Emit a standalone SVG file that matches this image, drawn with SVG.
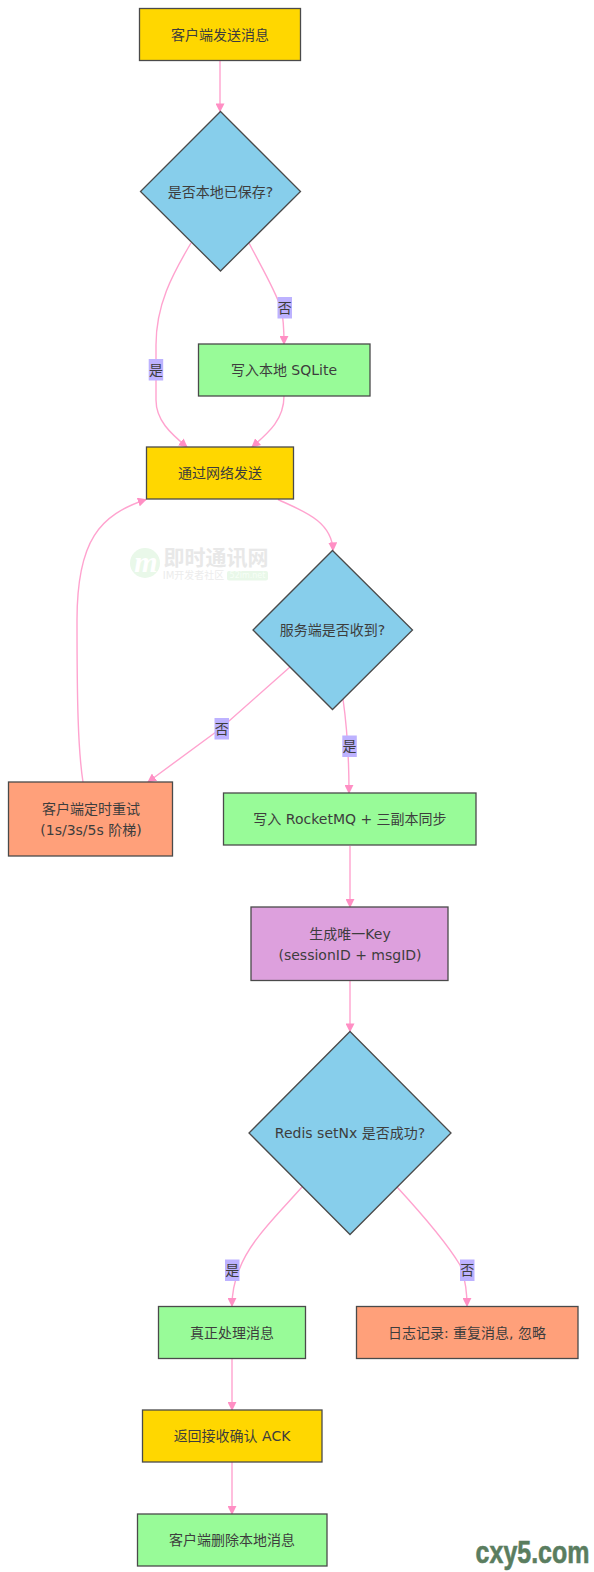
<svg xmlns="http://www.w3.org/2000/svg" width="594" height="1572" viewBox="0 0 594 1572">
<style>
text{font-family:"DejaVu Sans","Noto Sans CJK SC",sans-serif;font-size:14px;fill:#3d3d3d;text-anchor:middle;dominant-baseline:central}
.n{stroke:#4a4a4a;stroke-width:1.3}
.y{fill:#ffd700}.b{fill:#87ceeb}.g{fill:#98fb98}.o{fill:#ffa07a}.p{fill:#dda0dd}
.e{fill:none;stroke:#ffa3cf;stroke-width:1.4;marker-end:url(#a)}
.l{fill:#bdb2ff}
</style>
<defs><marker id="a" markerUnits="userSpaceOnUse" viewBox="0 0 10 10" refX="9" refY="5" markerWidth="9" markerHeight="9" orient="auto"><path d="M0 0L10 5L0 10z" fill="#ff8fc4"/></marker></defs>
<g id="watermark">
<circle cx="145" cy="563" r="15" fill="#e9f8e9"/>
<text x="146" y="561" style="font-family:'Liberation Serif',serif;font-size:30px;font-style:italic;font-weight:700;fill:#fff">m</text>
<text x="216" y="558" style="font-size:21px;font-weight:700;fill:#e8e8e8">即时通讯网</text>
<text x="193.500" y="575.500" style="font-size:10px;fill:#ececec">IM开发者社区</text>
<rect x="227" y="571" width="41" height="9.500" rx="2" fill="#e9f8e9"/>
<text x="247.500" y="575.500" style="font-size:8px;fill:#f7fff7">52im.net</text>
</g>
<g id="connectors">
<path class="e" d="M220 61V111.500"/>
<path class="e" d="M191 243C172 275 156 305 156 345V400C156 420 170 433 187 447"/>
<path class="e" d="M249 243C262 268 275 290 281 308C284 320 284 330 284 344"/>
<path class="e" d="M284 396C284 420 268 433 252 447"/>
<path class="e" d="M278 499.500C300 510 332 520 333 550.500"/>
<path class="e" d="M290 667L220 729L148 782"/>
<path class="e" d="M343 699C346 720 349 750 349 793"/>
<path class="e" d="M83 782C78 750 77 700 77 620C77 540 100 515 146 499.500"/>
<path class="e" d="M350 846V907"/>
<path class="e" d="M350 981V1031.500"/>
<path class="e" d="M302 1187C280 1212 250 1240 239 1270C233 1285 232 1295 232 1306"/>
<path class="e" d="M397 1187C420 1212 445 1240 460 1265C466 1280 467 1295 467 1306"/>
<path class="e" d="M232 1359V1410"/>
<path class="e" d="M232 1462V1514"/>
</g>
<g id="n1"><rect class="n y" x="139.500" y="8.500" width="161" height="52"/><text x="220" y="34.500">客户端发送消息</text></g>
<g id="n2"><polygon class="n b" points="220.500,111.500 300.500,191.500 220.500,271 140.500,191.500"/><text x="220.500" y="191.500">是否本地已保存?</text></g>
<g id="n3"><rect class="n g" x="198.500" y="344" width="171.500" height="52"/><text x="284" y="370">写入本地 SQLite</text></g>
<g id="n4"><rect class="n y" x="146.500" y="447" width="147" height="52"/><text x="220" y="473">通过网络发送</text></g>
<g id="n5"><polygon class="n b" points="332.500,550.500 412.500,630 332.500,709.500 253,630"/><text x="332.500" y="630">服务端是否收到?</text></g>
<g id="n6"><rect class="n o" x="8.500" y="782" width="164" height="74"/><text x="91" y="809">客户端定时重试</text><text x="91" y="830">(1s/3s/5s 阶梯)</text></g>
<g id="n7"><rect class="n g" x="223.500" y="793" width="252.500" height="52"/><text x="350" y="819">写入 RocketMQ + 三副本同步</text></g>
<g id="n8"><rect class="n p" x="251" y="907" width="197" height="73.500"/><text x="350" y="933.500">生成唯一Key</text><text x="350" y="954.500">(sessionID + msgID)</text></g>
<g id="n9"><polygon class="n b" points="350,1031.500 451,1133 350,1234.500 249,1133"/><text x="350" y="1133">Redis setNx 是否成功?</text></g>
<g id="n10"><rect class="n g" x="158.500" y="1306.500" width="147" height="52"/><text x="232" y="1332.500">真正处理消息</text></g>
<g id="n11"><rect class="n o" x="356.500" y="1306.500" width="221.500" height="52"/><text x="467" y="1332.500">日志记录: 重复消息, 忽略</text></g>
<g id="n12"><rect class="n y" x="142.500" y="1410" width="179.500" height="52"/><text x="232" y="1436">返回接收确认 ACK</text></g>
<g id="n13"><rect class="n g" x="137.500" y="1514" width="189.500" height="52"/><text x="232" y="1540">客户端删除本地消息</text></g>
<g id="labels">
<rect class="l" x="277.500" y="297" width="14.500" height="21.500"/><text x="284.700" y="307.500">否</text>
<rect class="l" x="148.700" y="359" width="14.500" height="21.500"/><text x="156" y="369.500">是</text>
<rect class="l" x="214.500" y="718" width="14.500" height="21.500"/><text x="221.700" y="728.500">否</text>
<rect class="l" x="342.300" y="735.500" width="14.500" height="21.500"/><text x="349.500" y="746">是</text>
<rect class="l" x="225" y="1259.500" width="14.500" height="21.500"/><text x="232.200" y="1270">是</text>
<rect class="l" x="460" y="1259.500" width="14.500" height="21.500"/><text x="467.200" y="1270">否</text>
</g>
<text transform="translate(532.500 1563) scale(.78 1)" x="0" y="0" style="font-family:'Liberation Sans',sans-serif;font-size:32px;font-weight:700;fill:#5a7d5f;dominant-baseline:auto;stroke:#5a7d5f;stroke-width:.6">cxy5.com</text>
</svg>
